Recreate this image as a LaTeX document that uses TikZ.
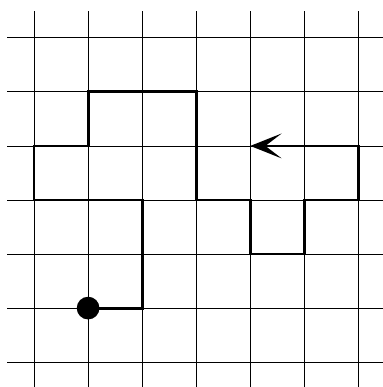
\documentclass[tikz,border=0pt]{standalone}
\usepackage{tikz}
\usetikzlibrary{arrows.meta}

\begin{document}
\begin{tikzpicture}[
    gridline/.style={draw, line width=0.45pt},
    route/.style={draw, line width=1.5pt, -{Stealth[length=0.58cm, width=0.46cm, inset=0.3cm]}},
    dot/.style={circle, fill=black, inner sep=0pt, minimum size=0.42cm}
]
\useasboundingbox (-0.63,-0.46) rectangle (6.44,6.70);
\draw[gridline] (-0.5,-0.5) grid (6.5,6.5);

\node[dot] (start) at (1,1) {};
\coordinate (finish) at (4,4);
\draw[route] (start.center) -- (2,1) -- (2,3) -- (0,3) -- (0,4) -- (1,4) -- (1,5) -- (3,5)
    -- (3,3) -- (4,3) -- (4,2) -- (5,2) -- (5,3) -- (6,3) -- (6,4) -- (finish);
\end{tikzpicture}
\end{document}
